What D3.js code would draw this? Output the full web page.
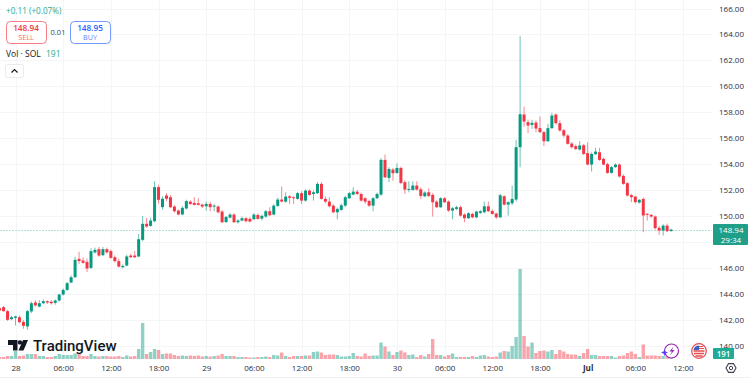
<!DOCTYPE html>
<html>
<head>
<meta charset="utf-8">
<script src="https://cdn.jsdelivr.net/npm/d3@7/dist/d3.min.js"></script>
<style>
  html, body { margin: 0; padding: 0; background: #fff; overflow: hidden; }
  text { font-family: "Open Sans", "Noto Sans", sans-serif; }
</style>
</head>
<body>
<div id="chart"></div>
<script>
// half hour candles, first one opens 27 Jun 22:00
var opens = [142.88,142.96,142.65,142.03,
  142.14,142.18,141.82,141.47,142.63,143.32,143.00,143.26,143.42,143.37,143.29,143.47,
  143.93,144.29,144.86,145.27,146.69,146.56,146.45,145.99,147.18,147.43,146.97,147.43,
  147.28,146.81,146.51,146.04,146.17,146.94,146.94,146.87,148.15,149.39,149.23,149.59,
  152.22,150.67,151.57,151.44,150.72,150.41,150.11,150.57,151.10,151.00,150.97,150.87,
  150.74,150.92,150.74,150.72,150.33,149.53,149.87,150.10,149.51,149.64,149.82,149.77,
  149.74,150.07,149.79,149.95,150.36,150.10,150.77,151.26,151.10,151.51,151.44,151.31,
  151.75,151.18,151.95,151.69,151.75,152.47,151.31,151.10,150.79,150.28,150.46,150.79,
  151.36,151.64,151.87,151.69,151.36,151.15,150.79,151.36,151.64,154.32,152.93,153.57,
  153.31,153.70,152.60,152.03,152.00,152.34,152.05,151.51,151.82,151.62,151.10,150.67,
  151.36,151.10,150.41,150.54,150.67,150.10,149.82,150.15,149.89,150.23,150.28,150.74,
  150.38,150.18,149.89,151.51,150.87,150.97,151.26,155.30,157.82,157.23,157.02,157.20,
  156.77,156.46,155.76,156.77,157.82,157.15,156.61,156.20,155.58,155.38,155.12,155.45,
  154.84,153.96,154.76,154.91,154.40,153.99,153.32,153.76,153.96,153.09,152.52,151.60,
  151.49,151.03,151.31,150.16,150.08,149.95,149.08,148.87,149.25,148.83];
var highs = [142.98,143.05,142.75,142.30,
  142.31,142.30,141.95,142.75,143.40,143.50,143.50,143.55,143.48,143.50,143.55,144.00,
  144.40,144.90,145.40,146.85,147.23,146.80,146.70,147.50,147.55,147.60,147.60,147.55,
  147.40,146.95,146.70,146.25,147.00,147.05,147.30,148.60,150.00,149.85,149.85,152.68,
  152.40,151.50,151.75,151.60,150.85,150.50,150.75,151.25,151.20,151.44,151.36,150.95,
  151.10,151.10,150.92,150.80,150.45,150.00,150.20,150.20,149.75,149.95,149.90,149.90,
  150.20,150.20,150.10,150.45,150.67,150.90,151.40,152.26,151.82,151.60,151.50,151.85,
  151.90,152.05,152.05,151.95,152.60,152.60,151.50,151.44,150.90,150.65,150.95,151.55,
  151.85,152.21,152.00,151.80,151.45,151.25,151.45,151.80,154.45,154.73,153.75,153.70,
  154.06,153.80,152.75,152.67,152.67,152.67,152.20,151.90,152.13,151.75,151.20,151.45,
  151.45,151.20,150.70,150.78,150.80,150.20,150.30,150.25,150.40,150.45,151.10,151.10,
  150.50,150.25,151.70,151.60,151.15,152.34,155.86,163.86,158.43,157.43,157.41,157.36,
  157.67,156.55,157.10,157.95,157.90,157.36,156.70,156.30,155.70,155.50,155.76,155.55,
  155.68,154.90,155.25,155.25,154.50,154.10,153.85,154.05,154.05,153.20,152.60,151.70,
  151.55,151.30,151.40,150.20,150.15,150.02,149.20,149.35,149.40,149.00];
var lows = [142.62,142.60,141.90,141.95,
  141.54,141.70,141.29,141.23,142.50,143.00,142.95,143.20,143.20,143.15,143.15,143.40,
  143.85,144.20,144.80,145.20,146.30,146.30,145.66,145.90,147.10,146.85,146.90,147.10,
  146.70,146.40,146.00,145.95,146.10,146.75,146.75,146.80,148.05,149.10,149.15,149.50,
  150.95,150.50,151.15,150.60,150.25,150.05,150.05,150.50,150.85,150.80,150.80,150.60,
  150.41,150.36,150.36,150.20,149.45,149.45,149.80,149.45,149.40,149.60,149.50,149.50,
  149.70,149.70,149.65,149.85,149.98,150.05,150.70,151.05,151.00,150.92,150.92,151.25,
  150.92,151.10,151.55,151.18,151.70,151.25,151.00,150.65,150.20,149.74,150.40,150.70,
  151.30,151.60,151.60,151.10,150.92,150.70,150.36,151.30,151.55,152.90,152.60,152.72,
  153.25,152.45,151.70,151.82,151.95,151.95,151.31,151.45,151.45,149.95,150.60,150.60,
  151.00,150.30,149.74,150.45,149.95,149.51,149.75,149.82,149.82,150.15,150.20,150.30,
  150.10,149.77,149.85,150.80,150.02,150.85,151.10,153.75,156.89,156.38,156.71,156.46,
  156.40,155.38,155.70,156.70,157.05,156.50,156.05,155.50,155.20,155.10,155.05,154.70,
  153.90,153.42,154.70,154.25,153.90,153.25,153.25,153.70,152.95,152.40,151.50,151.06,
  150.95,150.95,148.74,149.64,149.85,148.95,148.54,148.48,148.75,148.78];
var closes = [142.70,142.65,141.98,142.18,
  142.24,141.80,141.52,142.65,143.26,143.09,143.26,143.42,143.32,143.26,143.47,143.93,
  144.29,144.81,145.27,146.61,146.51,146.38,145.94,147.28,147.38,146.94,147.43,147.18,
  146.76,146.51,146.09,146.14,146.87,146.81,146.81,148.20,149.39,149.18,149.64,152.22,
  151.24,151.32,151.32,150.67,150.36,150.11,150.62,151.14,150.92,150.85,150.85,150.72,
  150.92,150.67,150.79,150.28,149.51,149.92,150.10,149.51,149.64,149.82,149.59,149.56,
  150.10,149.77,150.00,150.36,150.05,150.79,151.26,151.10,151.49,151.39,151.36,151.75,
  151.18,151.95,151.62,151.82,152.47,151.31,151.10,150.74,150.28,150.54,150.82,151.44,
  151.75,151.87,151.69,151.18,151.10,150.79,151.36,151.69,154.32,152.98,153.62,153.29,
  153.70,152.54,152.03,152.08,152.34,152.03,151.54,151.80,151.54,151.05,150.67,151.36,
  151.05,150.41,150.59,150.67,150.02,149.82,150.20,149.89,150.33,150.36,150.74,150.36,
  150.15,149.89,151.59,150.87,151.05,151.31,155.30,157.84,157.28,156.97,157.18,156.74,
  156.46,155.76,156.77,157.74,157.15,156.59,156.20,155.56,155.30,155.15,155.43,154.78,
  153.96,154.78,154.96,154.32,153.96,153.32,153.76,153.96,153.04,152.47,151.57,151.44,
  151.06,151.24,150.03,150.08,149.95,149.05,148.87,149.25,148.82,148.94];
var volumes = [200,200,300,300,
  800,300,350,500,500,500,300,300,200,200,300,500,
  400,400,400,550,550,300,300,500,300,250,300,300,
  250,250,300,200,350,250,300,1000,3600,500,700,1000,
  900,500,550,550,400,300,350,300,350,300,350,250,
  300,250,300,350,500,300,300,300,200,200,200,150,
  150,200,200,250,200,400,350,650,300,200,300,300,
  300,350,350,700,750,650,400,450,450,400,250,250,
  300,600,300,250,550,300,350,350,1650,1250,750,400,
  700,850,650,400,450,200,400,250,500,2000,400,400,
  250,400,550,200,200,200,200,300,200,350,400,250,
  200,250,650,800,750,1300,2200,9000,2300,1250,1650,600,
  800,850,750,900,500,900,750,500,450,450,300,600,
  1000,400,400,300,300,300,300,150,300,350,600,750,
  500,200,1450,350,350,350,300,300,300,191];

var priceTicks = [166,164,162,160,158,156,154,152,150,146,144,142,140];
var gridPrices = [166,164,162,160,158,156,154,152,150,148,146,144,142,140];
var timeTicks = ["2025-06-28T00:00Z","2025-06-28T06:00Z","2025-06-28T12:00Z","2025-06-28T18:00Z",
  "2025-06-29T00:00Z","2025-06-29T06:00Z","2025-06-29T12:00Z","2025-06-29T18:00Z",
  "2025-06-30T00:00Z","2025-06-30T06:00Z","2025-06-30T12:00Z","2025-06-30T18:00Z",
  "2025-07-01T00:00Z","2025-07-01T06:00Z","2025-07-01T12:00Z"];
var timeLabels = ["28","06:00","12:00","18:00","29","06:00","12:00","18:00","30","06:00","12:00","18:00","Jul","06:00","12:00"];
var lastPrice = 148.94;
var countdown = "29:34";
var changeText = "+0.11 (+0.07%)";
var sellPrice = "148.94";
var buyPrice = "148.95";
var spread = "0.01";
var lastVolume = 191;

var width = 750, height = 380, plotRight = 712;
var green = "#089981", red = "#f23645";
var firstOpen = new Date("2025-06-27T22:00Z");
var halfHour = 30 * 60 * 1000;

var candles = d3.range(opens.length).map(function(i) {
  return {
    t: new Date(+firstOpen + i * halfHour),
    o: opens[i], h: highs[i], l: lows[i], c: closes[i], v: volumes[i]
  };
});

var x = d3.scaleUtc()
    .domain([new Date(timeTicks[0]), new Date(timeTicks[timeTicks.length - 1])])
    .range([15.5, 683]);
var y = d3.scaleLinear().domain([166, 140]).range([8.5, 345.5]);
var yVol = d3.scaleLinear().domain([0, 9000]).range([359, 269]);

function color(d) { return d.c >= d.o ? green : red; }

var svg = d3.select("#chart").append("svg")
    .attr("width", width)
    .attr("height", height)
    .style("display", "block");

// grid
svg.append("g").selectAll("line")
    .data(gridPrices)
  .enter().append("line")
    .attr("x1", 0).attr("x2", plotRight)
    .attr("y1", function(d) { return Math.round(y(d)) + 0.5; })
    .attr("y2", function(d) { return Math.round(y(d)) + 0.5; })
    .style("stroke", "#f3f5f8");

svg.append("g").selectAll("line")
    .data(timeTicks)
  .enter().append("line")
    .attr("x1", function(d) { return Math.round(x(new Date(d))) + 0.5; })
    .attr("x2", function(d) { return Math.round(x(new Date(d))) + 0.5; })
    .attr("y1", 0).attr("y2", 358)
    .style("stroke", "#f3f5f8");

svg.append("line")
    .attr("x1", 0).attr("x2", width)
    .attr("y1", 377.5).attr("y2", 377.5)
    .style("stroke", "#eef0f4");

// volume
svg.append("g").selectAll("rect")
    .data(candles)
  .enter().append("rect")
    .attr("x", function(d) { return x(d.t) - 1.7; })
    .attr("y", function(d) { return yVol(d.v); })
    .attr("width", 3.4)
    .attr("height", function(d) { return yVol(0) - yVol(d.v); })
    .style("fill", color)
    .style("opacity", 0.45);

// last price line
svg.append("line")
    .attr("x1", 0).attr("x2", plotRight)
    .attr("y1", Math.round(y(lastPrice)) + 0.5).attr("y2", Math.round(y(lastPrice)) + 0.5)
    .style("stroke", green)
    .style("stroke-opacity", 0.3)
    .style("stroke-dasharray", "2 1");

// candles
var candle = svg.append("g").selectAll("g")
    .data(candles)
  .enter().append("g");

candle.append("line")
    .attr("x1", function(d) { return x(d.t); })
    .attr("x2", function(d) { return x(d.t); })
    .attr("y1", function(d) { return y(d.h); })
    .attr("y2", function(d) { return y(d.l); })
    .style("stroke", color)
    .style("stroke-opacity", 0.6);

candle.append("rect")
    .attr("x", function(d) { return x(d.t) - 1.5; })
    .attr("y", function(d) { return y(Math.max(d.o, d.c)); })
    .attr("width", 3)
    .attr("height", function(d) { return Math.max(1, Math.abs(y(d.o) - y(d.c))); })
    .style("fill", color);

// price axis
var priceAxis = d3.axisRight(y)
    .tickValues(priceTicks)
    .tickSize(0)
    .tickFormat(d3.format(".2f"));

svg.append("g")
    .attr("transform", "translate(" + 719 + ",0)")
    .call(priceAxis)
    .call(function(g) { g.select(".domain").remove(); })
    .call(function(g) {
      g.selectAll("text")
          .attr("x", 0)
          .style("font-size", "8px")
          .style("font-family", "'Open Sans', sans-serif")
          .style("fill", "#2a2e39");
    });

// time axis
var timeAxis = d3.axisBottom(x)
    .tickValues(timeTicks.map(function(d) { return new Date(d); }))
    .tickSize(0)
    .tickFormat(function(d, i) { return timeLabels[i]; });

svg.append("g")
    .attr("transform", "translate(0,371)")
    .call(timeAxis)
    .call(function(g) { g.select(".domain").remove(); })
    .call(function(g) {
      g.selectAll("text")
          .attr("y", 0)
          .attr("dy", 0)
          .style("font-size", "8px")
          .style("font-family", "'Open Sans', sans-serif")
          .style("fill", "#2a2e39")
          .style("font-weight", function(d, i) { return timeLabels[i] === "Jul" ? 700 : 400; });
    });

// last price and volume tags
svg.append("rect")
    .attr("x", 713).attr("y", 224).attr("width", 35).attr("height", 21)
    .attr("rx", 1)
    .style("fill", "#1f9e88");
svg.append("text")
    .attr("x", 731).attr("y", 233)
    .attr("text-anchor", "middle")
    .style("font-size", "8px")
    .style("fill", "#fff")
    .text(lastPrice.toFixed(2));
svg.append("text")
    .attr("x", 731).attr("y", 243)
    .attr("text-anchor", "middle")
    .style("font-size", "8px")
    .style("fill", "#fff")
    .text(countdown);

svg.append("rect")
    .attr("x", 713).attr("y", 348).attr("width", 21).attr("height", 11)
    .attr("rx", 1)
    .style("fill", "#22ab94");
svg.append("text")
    .attr("x", 723.5).attr("y", 356.5)
    .attr("text-anchor", "middle")
    .style("font-size", "8px")
    .style("font-weight", 600)
    .style("fill", "#fff")
    .text(lastVolume);

// header
svg.append("text")
    .attr("x", 6).attr("y", 14)
    .style("font-size", "8.2px")
    .style("fill", "#22ab94")
    .text(changeText);

function quoteBox(bx, stroke, price, label) {
  svg.append("rect")
      .attr("x", bx + 0.5).attr("y", 21.5).attr("width", 40).attr("height", 22)
      .attr("rx", 4)
      .style("fill", "#fff")
      .style("stroke", stroke)
      .style("stroke-opacity", 0.65);
  svg.append("text")
      .attr("x", bx + 20).attr("y", 31)
      .attr("text-anchor", "middle")
      .style("font-size", "8.2px")
      .style("font-weight", 600)
      .style("fill", stroke)
      .text(price);
  svg.append("text")
      .attr("x", bx + 20).attr("y", 40)
      .attr("text-anchor", "middle")
      .style("font-size", "7.2px")
      .style("fill", stroke)
      .style("fill-opacity", 0.8)
      .text(label);
}
quoteBox(6, red, sellPrice, "SELL");
quoteBox(70, "#2962ff", buyPrice, "BUY");

svg.append("text")
    .attr("x", 58).attr("y", 34.5)
    .attr("text-anchor", "middle")
    .style("font-size", "7.5px")
    .style("fill", "#434651")
    .text(spread);
svg.append("text")
    .attr("x", 6).attr("y", 57)
    .style("font-size", "8.5px")
    .style("fill", "#131722")
    .text("Vol · SOL");
svg.append("text")
    .attr("x", 46).attr("y", 57)
    .style("font-size", "8.5px")
    .style("fill", "#22ab94")
    .text(lastVolume);

svg.append("rect")
    .attr("x", 5.5).attr("y", 64.5).attr("width", 18).attr("height", 13)
    .attr("rx", 2)
    .style("fill", "#fff")
    .style("stroke", "#e9ebef");
svg.append("path")
    .attr("d", "M11.5 72.5 L14.5 69.5 L17.5 72.5")
    .style("fill", "none")
    .style("stroke", "#131722")
    .style("stroke-width", 1.2);

// TradingView mark
var logo = svg.append("g").attr("transform", "translate(8,340)");
logo.append("path").attr("d", "M0 0 H9.5 V10.5 H5 V5 H0 Z").style("fill", "#131722");
logo.append("circle").attr("cx", 12).attr("cy", 2.4).attr("r", 2.2).style("fill", "#131722");
logo.append("path").attr("d", "M15 0 H20 L15.5 10.5 H10.5 Z").style("fill", "#131722");
svg.append("text")
    .attr("x", 33).attr("y", 350.5)
    .style("font-family", "Roboto, sans-serif")
    .style("font-size", "15px")
    .style("font-weight", 500)
    .style("fill", "#131722")
    .text("TradingView");

// event badges
svg.append("circle")
    .attr("cx", 671.5).attr("cy", 351).attr("r", 7)
    .style("fill", "#fff")
    .style("stroke", "#9c27b0")
    .style("stroke-width", 1.2);
svg.append("path")
    .attr("d", "M673.5 346.5 L669.5 351.5 L672 351.5 L670 355.5 L674.5 350 L672 350 Z")
    .style("fill", "#9c27b0");
svg.append("path")
    .attr("d", "M664.5 349 L665.5 351.5 L668 352.5 L665.5 353.5 L664.5 356 L663.5 353.5 L661 352.5 L663.5 351.5 Z")
    .style("fill", "#5b3df5");

svg.append("circle")
    .attr("cx", 699).attr("cy", 351).attr("r", 7.3)
    .style("fill", "#fff")
    .style("stroke", "#e5484d")
    .style("stroke-width", 1.2);
svg.append("path")
    .attr("d", "M693.5 351 H704.5 M694 353.5 H704 M695.5 356 H702.5")
    .style("stroke", "#e5484d")
    .style("stroke-width", 1.3);
svg.append("path")
    .attr("d", "M693.5 350 A5.5 5.5 0 0 1 699 345.5 V350 Z")
    .style("fill", "#3b5fc4");
svg.append("path")
    .attr("d", "M699 346.5 H703 M699 348.5 H704")
    .style("stroke", "#e5484d")
    .style("stroke-width", 1.2);

// settings gear
svg.append("path")
    .attr("d", d3.line()(d3.range(6).map(function(i) {
      var a = i * Math.PI / 3;
      return [731 + 5 * Math.cos(a), 368 + 5 * Math.sin(a)];
    })) + "Z")
    .style("fill", "none")
    .style("stroke", "#434651")
    .style("stroke-width", 1.1);
svg.append("circle")
    .attr("cx", 731).attr("cy", 368).attr("r", 1.7)
    .style("fill", "none")
    .style("stroke", "#434651");
</script>
</body>
</html>
